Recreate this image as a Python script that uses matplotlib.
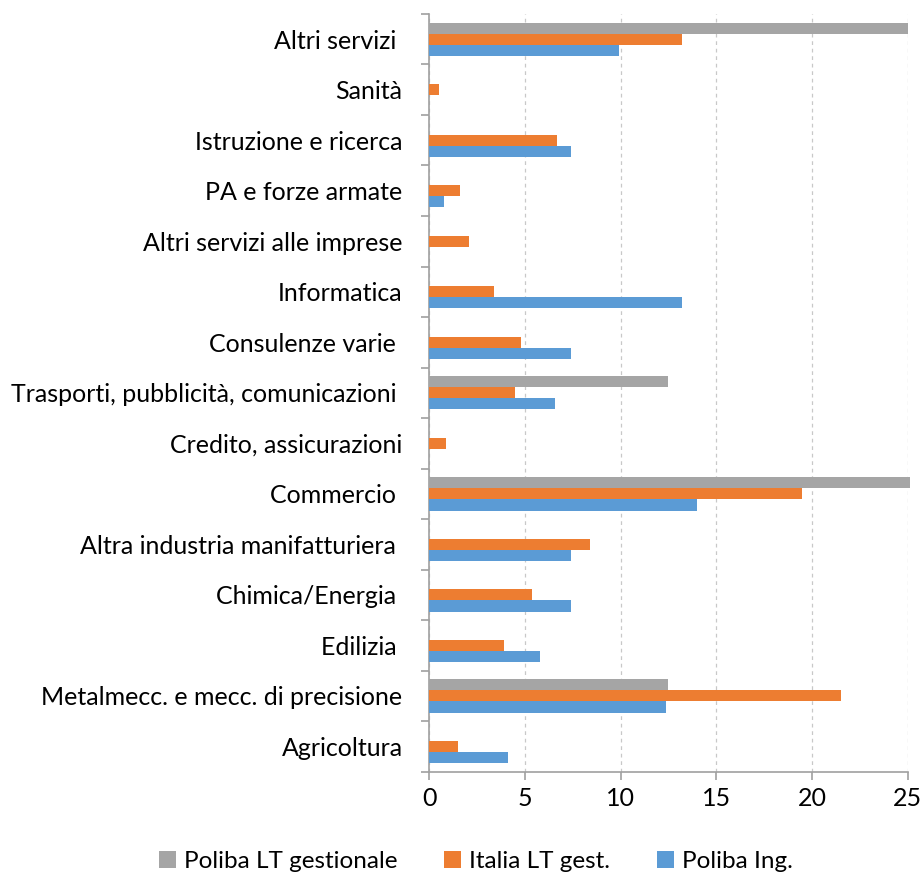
""" Settori di occupazione - barre orizzontali
"""

import matplotlib.pyplot as plt
import numpy as np

# categorie dal basso verso l'alto
categories = ['Agricoltura', 'Metalmecc. e mecc. di precisione', 'Edilizia ',
              'Chimica/Energia ', 'Altra industria manifatturiera ', 'Commercio ',
              'Credito, assicurazioni', 'Trasporti, pubblicità, comunicazioni ',
              'Consulenze varie ', 'Informatica', 'Altri servizi alle imprese',
              'PA e forze armate', 'Istruzione e ricerca', 'Sanità', 'Altri servizi ']

poliba_lt = [0, 12.5, 0, 0, 0, 25.1, 0, 12.5, 0, 0, 0, 0, 0, 0, 25.0]
italia_lt = [1.5, 21.5, 3.9, 5.4, 8.4, 19.5, 0.9, 4.5, 4.8, 3.4, 2.1, 1.6, 6.7, 0.5, 13.2]
poliba_ing = [4.1, 12.4, 5.8, 7.4, 7.4, 14.0, 0, 6.6, 7.4, 13.2, 0, 0.8, 7.4, 0, 9.9]

series_names = ['Poliba LT gestionale', 'Italia LT gest.', 'Poliba Ing.']
colors = ['#A5A5A5', '#ED7D31', '#5B9BD5']

x_ticks = [0, 5, 10, 15, 20, 25]


def main():
    plt.rcParams['font.family'] = ['Lato', 'DejaVu Sans']

    fig = plt.figure(figsize=(9.24, 8.76), dpi=100)
    ax = fig.add_axes([0.4643, 0.1191, 0.5181, 0.865])

    y = np.arange(len(categories))
    h = 0.22
    ax.barh(y + h, poliba_lt, height=h, color=colors[0], label=series_names[0],
            clip_on=False, zorder=3)
    ax.barh(y, italia_lt, height=h, color=colors[1], label=series_names[1], zorder=3)
    ax.barh(y - h, poliba_ing, height=h, color=colors[2], label=series_names[2], zorder=3)

    ax.set_xlim(0, 25)
    ax.set_ylim(-0.5, len(categories) - 0.5)
    ax.set_xticks(x_ticks)
    ax.set_xticklabels([str(t) for t in x_ticks], fontsize=18)

    # category labels between tick marks placed at boundaries
    ax.set_yticks(y)
    ax.set_yticklabels(categories, fontsize=18)
    ax.tick_params(axis='y', length=0, pad=19)
    ax.set_yticks(np.arange(-0.5, len(categories)), minor=True)
    ax.tick_params(axis='y', which='minor', length=6, color='#A0A0A0', width=1.2)
    ax.tick_params(axis='x', length=6, color='#A0A0A0', width=1.2, pad=5)

    for sp in ['top', 'right']:
        ax.spines[sp].set_visible(False)
    for sp in ['left', 'bottom']:
        ax.spines[sp].set_color('#A0A0A0')
        ax.spines[sp].set_linewidth(1.2)

    ax.xaxis.grid(True, linestyle=(0, (3, 3)), color='#C8C8C8', linewidth=0.9)
    ax.set_axisbelow(True)

    handles, labels = ax.get_legend_handles_labels()
    fig.legend(handles, labels, loc='lower center', bbox_to_anchor=(0.515, -0.02),
               ncol=3, frameon=False, fontsize=17.5, handlelength=0.7,
               handleheight=0.7, columnspacing=1.9, handletextpad=0.35)

    fig.savefig('out.png', dpi=100)


if __name__ == '__main__':
    main()
